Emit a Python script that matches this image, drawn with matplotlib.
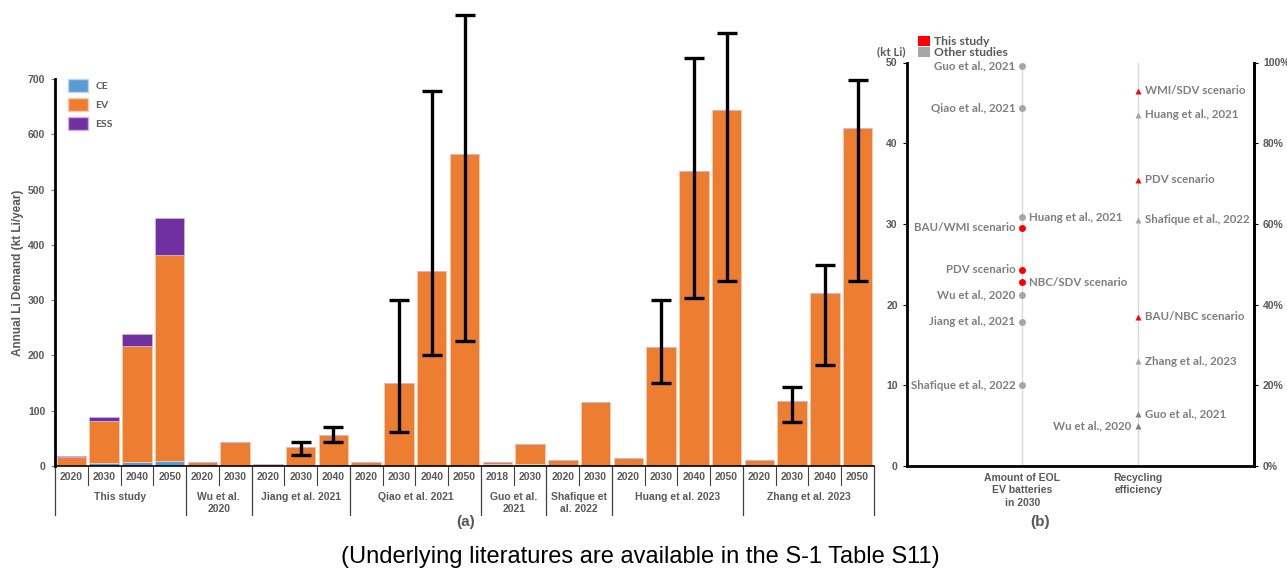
import matplotlib
matplotlib.use("Agg")
import matplotlib.pyplot as plt
import numpy as np
from matplotlib.patches import Patch

# ---------------- data: panel (a) ----------------
groups = ["This study", "Wu et al.\n2020", "Jiang et al. 2021", "Qiao et al. 2021",
          "Guo et al.\n2021", "Shafique et\nal. 2022", "Huang et al. 2023", "Zhang et al. 2023"]
years = [[2020, 2030, 2040, 2050], [2020, 2030], [2020, 2030, 2040],
         [2020, 2030, 2040, 2050], [2018, 2030], [2020, 2030],
         [2020, 2030, 2040, 2050], [2020, 2030, 2040, 2050]]

ce = [1.5, 5, 7, 9,  0, 0,  0, 0, 0,  0, 0, 0, 0,  3, 3,  0, 0,  0, 0, 0, 0,  0, 0, 0, 0]
ev = [14.5, 77, 210, 373,  7, 43,  4, 34, 56,  8, 151, 352, 565,  4, 36,  10, 115,
      14, 216, 533, 644,  10, 117, 313, 611]
ess = [2, 7, 22, 66,  0, 0,  0, 0, 0,  0, 0, 0, 0,  0, 0,  0, 0,  0, 0, 0, 0,  0, 0, 0, 0]

# ranges (low, high) reported by the studies, keyed by bar index
err_idx = [7, 8, 10, 11, 12, 18, 19, 20, 22, 23, 24]
err_low = [20, 44, 62, 200, 226, 150, 304, 334, 79, 182, 334]
err_high = [44, 70, 300, 679, 816, 300, 738, 783, 142, 363, 698]

# ---------------- data: panel (b) ----------------
eol_labels = ["Guo et al., 2021", "Qiao et al., 2021", "Huang et al., 2021", "BAU/WMI scenario",
              "PDV scenario", "NBC/SDV scenario", "Wu et al., 2020", "Jiang et al., 2021",
              "Shafique et al., 2022"]
eol_values = [49.6, 44.4, 30.8, 29.5, 24.3, 22.8, 21.2, 17.9, 10.0]
eol_this_study = [False, False, False, True, True, True, False, False, False]
eol_label_right = [False, False, True, False, False, True, False, False, False]

rec_labels = ["WMI/SDV scenario", "Huang et al., 2021", "PDV scenario", "Shafique et al., 2022",
              "BAU/NBC scenario", "Zhang et al., 2023", "Guo et al., 2021", "Wu et al., 2020"]
rec_values = [93, 87, 71, 61, 37, 26, 13, 10]  # percent
rec_this_study = [True, False, True, False, True, False, False, False]
rec_dark = [False, False, False, False, False, False, True, True]
rec_label_right = [True, True, True, True, True, True, True, False]

b_categories = ["Amount of EOL\nEV batteries\nin 2030", "Recycling\nefficiency"]

# ---------------- styling ----------------
C_CE, C_EV, C_ESS = "#5B9BD5", "#ED7D31", "#7030A0"
TXT = "#595959"
FA = "Liberation Sans"
FB = "Lato"

W, H = 1287, 577
fig = plt.figure(figsize=(W / 100, H / 100), dpi=100)

def box(l, t, r, b):
    return [l / W, 1 - b / H, (r - l) / W, (b - t) / H]

# ---------------- panel (a) ----------------
ax = fig.add_axes(box(55, 79, 874, 466))
n = len(ev)
x = np.arange(n)
ce_a, ev_a, ess_a = np.array(ce), np.array(ev), np.array(ess)
bw = 0.9
ax.bar(x, ce_a, bw, color=C_CE, edgecolor="#BDD7EE", linewidth=0.6)
ax.bar(x, ev_a, bw, bottom=ce_a, color=C_EV, edgecolor="#F8CBAD", linewidth=0.6)
ax.bar(x, ess_a, bw, bottom=ce_a + ev_a, color=C_ESS, edgecolor="#C9B3DD", linewidth=0.6)

tot = ce_a + ev_a + ess_a
ei = np.array(err_idx)
ax.errorbar(ei, tot[ei], yerr=[tot[ei] - np.array(err_low), np.array(err_high) - tot[ei]],
            fmt="none", ecolor="black", elinewidth=2.4, capsize=7, capthick=2.4,
            clip_on=False, zorder=5)

ax.set_xlim(-0.5, n - 0.5)
ax.set_ylim(0, 700)
ax.set_yticks(range(0, 701, 100))
ax.tick_params(axis="y", length=3, width=0.8, colors="#7F7F7F", labelcolor=TXT, pad=4)
for lab in ax.get_yticklabels():
    lab.set_fontfamily(FA); lab.set_fontweight("bold"); lab.set_fontsize(7.5)
ax.set_xticks([])
for s in ["top", "right"]:
    ax.spines[s].set_visible(False)
ax.spines["left"].set_linewidth(2)
ax.spines["bottom"].set_linewidth(1.2)
ax.set_ylabel("Annual Li Demand (kt Li/year)", fontfamily=FA, fontweight="bold",
              fontsize=8.5, color=TXT, labelpad=3)

# category axis: years, group names and separators
tr = ax.get_xaxis_transform()
ah = 387.0
pos = 0
bounds = [-0.5]
for g, ys in zip(groups, years):
    for k, yv in enumerate(ys):
        ax.text(pos + k, -11 / ah, str(yv), transform=tr, ha="center", va="center",
                fontfamily=FA, fontweight="bold", fontsize=7.5, color=TXT, clip_on=False)
        if k > 0:
            ax.plot([pos + k - 0.5] * 2, [0, -19 / ah], transform=tr, color="#404040",
                    lw=0.8, clip_on=False)
    center = pos + (len(ys) - 1) / 2
    two = "\n" in g
    ax.text(center, -(37 if two else 31) / ah, g, transform=tr, ha="center", va="center",
            fontfamily=FA, fontweight="bold", fontsize=7.5, color=TXT, linespacing=1.25,
            clip_on=False)
    pos += len(ys)
    bounds.append(pos - 0.5)
for bx in bounds:
    ax.plot([bx, bx], [0, -49 / ah], transform=tr, color="#404040", lw=0.9, clip_on=False)

handles = [Patch(facecolor=C_CE, edgecolor="#BDD7EE"), Patch(facecolor=C_EV, edgecolor="#F8CBAD"),
           Patch(facecolor=C_ESS, edgecolor="#C9B3DD")]
leg = ax.legend(handles, ["CE", "EV", "ESS"], loc="upper left", bbox_to_anchor=(0.005, 1.025),
                frameon=False, handlelength=1.9, handleheight=1.6, labelspacing=0.55,
                handletextpad=0.7, prop={"family": FB, "weight": "bold", "size": 7.5})
for t in leg.get_texts():
    t.set_color(TXT)

# ---------------- panel (b) ----------------
bx_ = fig.add_axes(box(906.7, 62.5, 1254, 466))
bx_.set_xlim(0, 3)
bx_.set_ylim(0, 50)
bx_.axvline(1, color="#D9D9D9", lw=1, zorder=0)
bx_.axvline(2, color="#D9D9D9", lw=1, zorder=0)
for v, lab, me, rt in zip(eol_values, eol_labels, eol_this_study, eol_label_right):
    bx_.plot(1, v, "o", ms=5, color="#FF0000" if me else "#A6A6A6", mec="none", zorder=3)
    bx_.annotate(lab, (1, v), xytext=(5 if rt else -5, 0), textcoords="offset points",
                 ha="left" if rt else "right", va="center", fontfamily=FB, fontweight="bold",
                 fontsize=8.3, color="#7F7F7F")
for v, lab, me, dk, rt in zip(rec_values, rec_labels, rec_this_study, rec_dark, rec_label_right):
    col = "#FF0000" if me else ("#7F7F7F" if dk else "#A6A6A6")
    bx_.plot(2, v / 2, "^", ms=5, color=col, mec="none", zorder=3)
    bx_.annotate(lab, (2, v / 2), xytext=(5 if rt else -5, 0), textcoords="offset points",
                 ha="left" if rt else "right", va="center", fontfamily=FB, fontweight="bold",
                 fontsize=8.3, color="#7F7F7F")

bx_.set_yticks(range(0, 51, 10))
bx_.tick_params(axis="y", length=3, width=0.8, labelsize=7.5, labelcolor=TXT)
for lab in bx_.get_yticklabels():
    lab.set_fontfamily(FA); lab.set_fontweight("bold")
bx_.set_xticks([1, 2])
bx_.set_xticklabels(b_categories, fontfamily=FA, fontweight="bold", fontsize=7.5, color=TXT,
                    linespacing=1.3)
bx_.tick_params(axis="x", length=0, pad=5)
bx_.spines["top"].set_visible(False)
for s in ["left", "bottom", "right"]:
    bx_.spines[s].set_linewidth(2)

rx = bx_.twinx()
rx.set_ylim(0, 100)
rx.set_yticks(range(0, 101, 20))
rx.set_yticklabels([f"{v}%" for v in range(0, 101, 20)], fontfamily=FA, fontweight="bold",
                   fontsize=7.5, color=TXT)
rx.tick_params(axis="y", length=3, width=0.8)
rx.spines["top"].set_visible(False)
rx.spines["right"].set_linewidth(2)
rx.spines["left"].set_visible(False)
rx.spines["bottom"].set_visible(False)

fig.text(877 / W, 1 - 52 / H, "(kt Li)", fontfamily=FB, fontweight="bold", fontsize=8.3,
         color=TXT, ha="left", va="center")
fig.legend([Patch(facecolor="#FF0000"), Patch(facecolor="#A6A6A6")],
           ["This study", "Other studies"], loc="upper left",
           bbox_to_anchor=(912 / W, 1 - 30 / H), frameon=False, handlelength=1.0,
           handleheight=0.9, labelspacing=0.0, handletextpad=0.3, borderpad=0,
           prop={"family": FB, "weight": "bold", "size": 8.7}, labelcolor=TXT)

# panel captions and footnote
fig.text(466 / W, 1 - 522 / H, "(a)", fontfamily=FA, fontweight="bold", fontsize=11,
         color=TXT, ha="center", va="center")
fig.text(1040 / W, 1 - 522 / H, "(b)", fontfamily=FA, fontweight="bold", fontsize=11,
         color=TXT, ha="center", va="center")
fig.text(640 / W, 1 - 557 / H, "(Underlying literatures are available in the S-1 Table S11)",
         fontfamily=FA, fontsize=17, color="black", ha="center", va="center")

fig.savefig("out.png", dpi=100)
